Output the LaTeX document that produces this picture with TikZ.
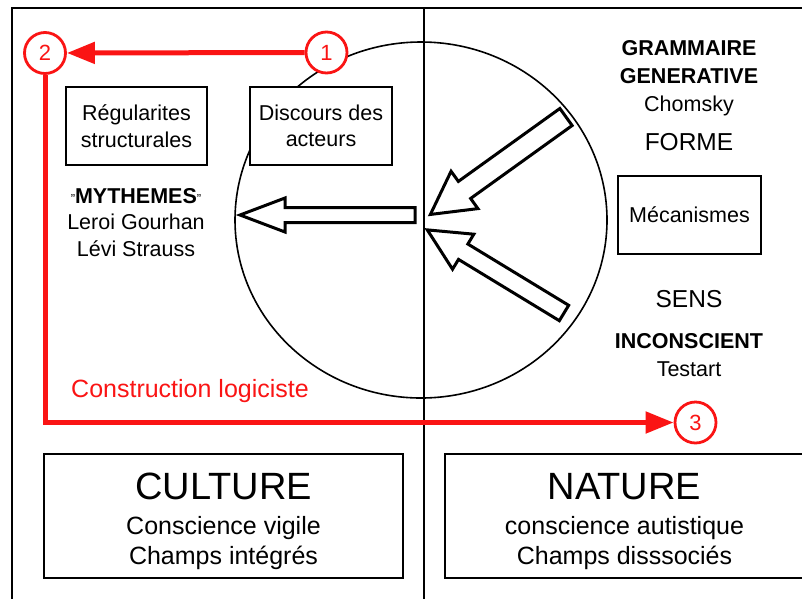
\documentclass[tikz,border=0pt]{standalone}
\usepackage{fontspec}
\setmainfont{Liberation Sans}
\usepackage{xcolor}
\usetikzlibrary{arrows.meta}

\definecolor{logired}{RGB}{250,20,20}

% #1 tail, #2 angle, #3 length, #4 half shaft, #5 half head, #6 head length
\newcommand{\fatarrow}[6]{%
  \begin{scope}[shift={(#1)}, rotate=#2]
    \draw[fat] (0,-#4) -- ({#3-#6},-#4) -- ({#3-#6},-#5) -- (#3,0) -- ({#3-#6},#5) -- ({#3-#6},#4) -- (0,#4) -- cycle;
  \end{scope}}

\begin{document}
\begin{tikzpicture}[x=1pt, y=-1pt, align=center,
  box/.style={draw, fill=white, line width=1.8pt, inner sep=0pt},
  txt/.style={inner sep=0pt, font=\fontsize{21.5}{26.5}\selectfont},
  big/.style={inner sep=0pt, font=\fontsize{25}{30}\selectfont},
  num/.style={circle, draw=logired, fill=white, line width=2.8pt, text=logired, minimum size=41pt, inner sep=0pt, font=\fontsize{22}{22}\selectfont},
  redline/.style={draw=logired, line width=5pt, -{Triangle[length=28pt, width=21pt]}},
  fat/.style={draw, line width=3pt, fill=white, line join=miter}]
\useasboundingbox (0,0) rectangle (802,598);

% frame
\draw[line width=1.8pt] (12,640) -- (12,8) -- (840,8);
\draw[line width=1.8pt] (424,8) -- (424,640);
\draw[line width=1.6pt] (421,220) ellipse [x radius=186pt, y radius=178pt];

% left column
\node[box, txt, minimum width=141pt, minimum height=78pt] (regul) at (136.5,126) {R\'egularites\\structurales};
\node[box, txt, minimum width=142pt, minimum height=78pt] (discours) at (321,126) {Discours des\\acteurs};
\node[txt] (mythemes) at (136,222.5) {{\fontsize{13}{13}\selectfont"}\textbf{MYTHEMES}{\fontsize{13}{13}\selectfont"}\\Leroi Gourhan\\L\'evi Strauss};

% right column
\node[txt, font=\fontsize{21.5}{28}\selectfont] (grammaire) at (689,78) {\textbf{GRAMMAIRE}\\\textbf{GENERATIVE}\\Chomsky};
\node[inner sep=0pt, font=\fontsize{24.5}{24.5}\selectfont] (forme) at (689,142.5) {FORME};
\node[box, txt, minimum width=143pt, minimum height=78pt] (meca) at (689.5,215) {M\'ecanismes};
\node[inner sep=0pt, font=\fontsize{24.5}{24.5}\selectfont] (sens) at (689,299) {SENS};
\node[txt, font=\fontsize{21.5}{28}\selectfont] (inconscient) at (689,355.5) {\textbf{INCONSCIENT}\\Testart};

% block arrows
\fatarrow{415,215}{180}{175}{7.5}{17}{45}
\fatarrow{566,117}{215.7}{167}{10.5}{23}{42}
\fatarrow{564,313}{148.7}{160}{9}{20.5}{42}

% red construction
\node[num] (n1) at (326.5,52.5) {1};
\node[num] (n2) at (45,53) {2};
\node[num] (n3) at (695.5,422.5) {3};
\draw[redline] (n1) -- (n2);
\draw[redline] (n2) -- (n2 |- n3) -- (n3);
\node[anchor=base west, inner sep=0pt, text=logired, font=\fontsize{25}{25}\selectfont] (constr) at (71,397) {Construction logiciste};

% bottom boxes
\node[box, minimum width=359pt, minimum height=124pt] (culture) at (223.5,516) {};
\node[big] (culturetxt) at (223.5,521.8) {{\fontsize{38}{38}\selectfont CULTURE}\\[5pt]Conscience vigile\\Champs int\'egr\'es};
\node[box, minimum width=359pt, minimum height=124pt] (nature) at (624.5,516) {};
\node[big] (naturetxt) at (624.5,521.8) {{\fontsize{38}{38}\selectfont NATURE}\\[5pt]conscience autistique\\Champs disssoci\'es};
\end{tikzpicture}
\end{document}
